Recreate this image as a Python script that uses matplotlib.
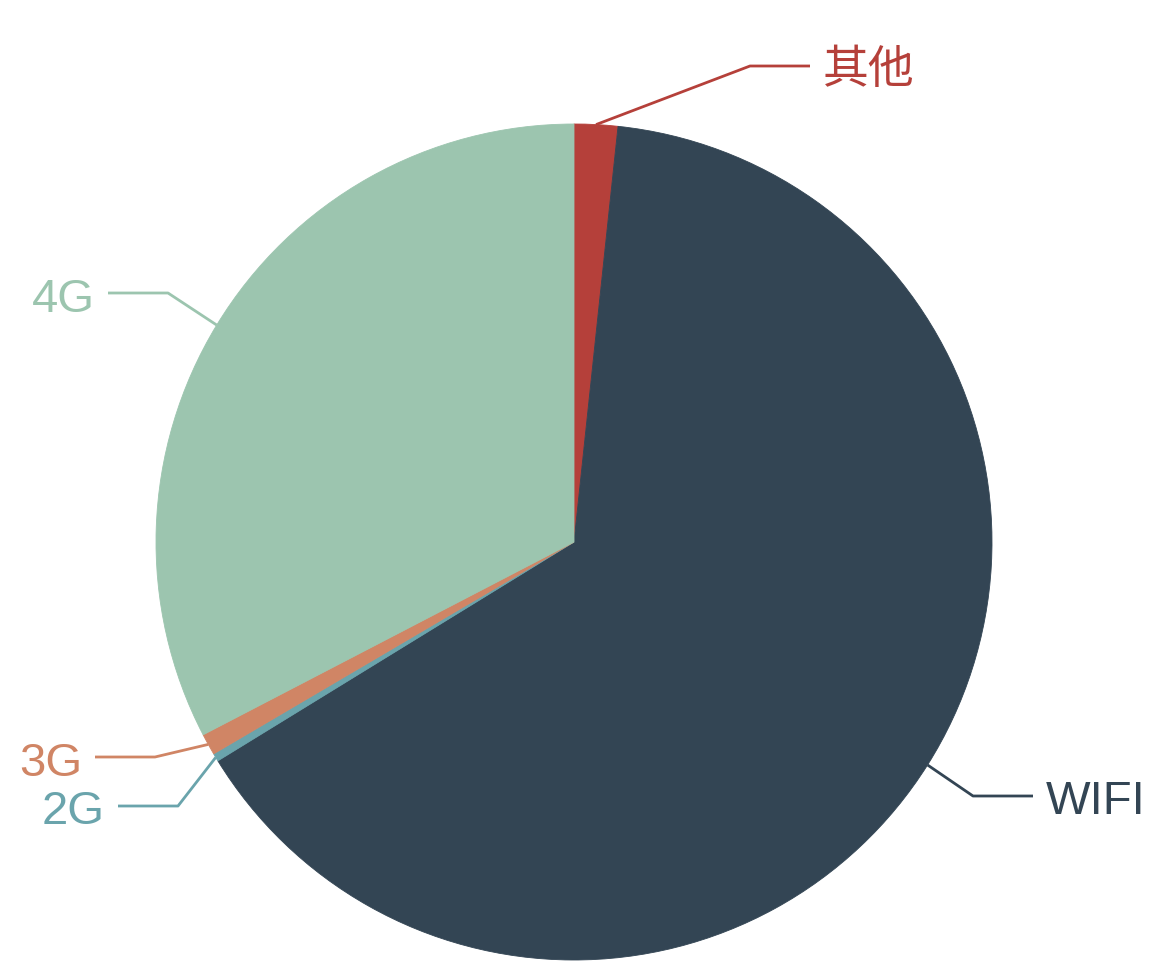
import numpy as np
import matplotlib.pyplot as plt

plt.rcParams["font.family"] = ["Liberation Sans", "Noto Sans CJK SC", "DejaVu Sans"]

## data, clockwise from 12 o'clock (percent)
labels = ["其他", "WIFI", "2G", "3G", "4G"]
shares = [1.68, 64.55, 0.31, 0.83, 32.63]
colors = ["#b5403a", "#334554", "#6aa4ac", "#d08565", "#9cc5af"]

## layout in pixels of the 1174x970 canvas
W, H = 1174, 970
CX, CY, R = 574, 543, 418
# elbow of each label line (labels got shifted to avoid overlap)
elbows = {
    "其他": (750, 67),
    "WIFI": (973, 797),
    "2G": (178, 807),
    "3G": (155, 758),
    "4G": (168, 294),
}
LEN2 = 60
GAP = 13
CAP = 35


def px2data(x, y):
    return (x - CX) / R, (CY - y) / R


fig = plt.figure(figsize=(W / 100, H / 100), dpi=100)
ax = fig.add_axes([0, 0, 1, 1])

wedges, _ = ax.pie(
    shares,
    colors=colors,
    startangle=90,
    counterclock=False,
    radius=1.0,
    center=(0, 0),
    wedgeprops={"linewidth": 0.6},
)
for w, c in zip(wedges, colors):
    w.set_edgecolor(c)

for w, name, c in zip(wedges, labels, colors):
    mid = np.deg2rad((w.theta1 + w.theta2) / 2)
    ax0, ay0 = np.cos(mid), np.sin(mid)
    ex, ey = elbows[name]
    side = 1 if ex > CX else -1
    lx = ex + side * LEN2
    bx, by = px2data(ex, ey)
    fx, fy = px2data(lx, ey)
    ax.plot([ax0, bx, fx], [ay0, by, fy], color=c, lw=2.0, solid_capstyle="butt")
    tx, ty = px2data(lx + side * GAP, ey + CAP / 2)
    if name.isascii():
        ax.text(tx, ty, name, color=c, fontsize=34,
                ha="left" if side > 0 else "right", va="baseline")
    else:
        ax.text(tx, ty + 2 / R, name, color=c, fontsize=33, fontweight="light",
                family=["Noto Sans CJK SC", "DejaVu Sans"],
                ha="left" if side > 0 else "right", va="baseline")

ax.set_xlim(-CX / R, (W - CX) / R)
ax.set_ylim(-(H - CY) / R, CY / R)
ax.set_aspect("auto")
ax.axis("off")

fig.savefig("out.png", dpi=100, facecolor="white")
